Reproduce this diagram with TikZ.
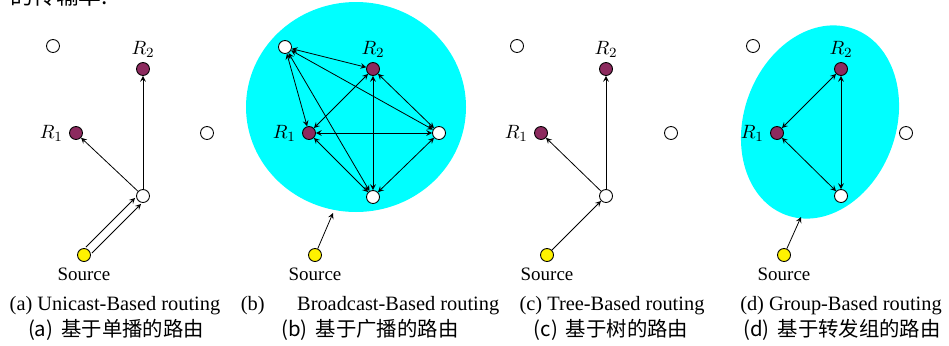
\documentclass[tikz,border=0pt]{standalone}
\usepackage{fontspec}
\setmainfont{Liberation Serif}
\newfontfamily\cjk{Noto Sans CJK SC}
\usetikzlibrary{calc}
\definecolor{member}{RGB}{140,42,94}
\definecolor{zone}{RGB}{0,255,255}
\tikzset{
  host/.style={circle,draw,fill=white,inner sep=0pt,minimum size=0.26cm,line width=0.5pt},
  recv/.style={host,fill=member},
  src/.style={host,fill=yellow},
  srclabel/.style={font=\fontsize{10.8}{12}\selectfont},
  rlabel/.style={font=\fontsize{11}{12}\selectfont},
  caption/.style={font=\fontsize{11.6}{13}\selectfont},
  zhcaption/.style={font=\fontsize{11.6}{13}\selectfont\cjk},
}

\begin{document}
\begin{tikzpicture}[>=stealth,x=0.02cm,y=-0.02cm,line width=0.45pt]
    \useasboundingbox (0,0) rectangle (949,345);
    % clipped line of the page text above
    \node[anchor=base west,inner sep=0pt,font=\fontsize{13}{14}\selectfont\cjk] (toptext) at (10,4) {的传输率.};

    % (a) unicast
    \node[host] (a-tl) at (53,46) {};
    \node[recv,label={[rlabel,label distance=-1pt]above:$R_2$}] (a-r2) at (143,69) {};
    \node[recv,label={[rlabel,label distance=0pt]left:$R_1$}] (a-r1) at (76,133) {};
    \node[host] (a-rt) at (207,133) {};
    \node[host] (a-mid) at (143,196) {};
    \node[src] (a-src) at (84,255) {};
    \node[srclabel] (a-srctext) at (84,274) {Source};
    \draw[->] (a-mid) -- (a-r2);
    \draw[->] (a-mid) -- (a-r1);
    \draw[->,transform canvas={shift={(-3,-3)}}] (a-src) -- (a-mid);
    \draw[->,transform canvas={shift={(3,3)}}] (a-src) -- (a-mid);
    \node[caption] (a-cap) at (115,306) {(a) Unicast-Based routing};
    \node[zhcaption] (a-zh) at (116,330) {(a) \,基于单播的路由};

    % (b) broadcast
    \fill[zone] (356,107) ellipse [x radius=110, y radius=105];
    \coordinate (b-rim) at (333,213);
    \node[host] (b-tl) at (285,47) {};
    \node[recv,label={[rlabel,label distance=-1pt]above:$R_2$}] (b-r2) at (373,69) {};
    \node[recv,label={[rlabel,label distance=0pt]left:$R_1$}] (b-r1) at (309,133) {};
    \node[host] (b-rt) at (439,133) {};
    \node[host] (b-bot) at (373,197) {};
    \node[src] (b-src) at (315,255) {};
    \node[srclabel] (b-srctext) at (315,274) {Source};
    \foreach \p/\q in {tl/r2,tl/r1,tl/rt,tl/bot,r2/r1,r2/rt,r2/bot,r1/rt,r1/bot,rt/bot}
        \draw[<->] (b-\p) -- (b-\q);
    \draw[->] (b-src) -- (b-rim);
    \node[caption] (b-cap) at (370,306) {(b)\hspace{1.6em}Broadcast-Based routing};
    \node[zhcaption] (b-zh) at (370,330) {(b) \,基于广播的路由};

    % (c) tree
    \node[host] (c-tl) at (517,46) {};
    \node[recv,label={[rlabel,label distance=-1pt]above:$R_2$}] (c-r2) at (606,69) {};
    \node[recv,label={[rlabel,label distance=0pt]left:$R_1$}] (c-r1) at (541,133) {};
    \node[host] (c-rt) at (671,133) {};
    \node[host] (c-mid) at (606,196) {};
    \node[src] (c-src) at (547,255) {};
    \node[srclabel] (c-srctext) at (547,274) {Source};
    \draw[->] (c-mid) -- (c-r2);
    \draw[->] (c-mid) -- (c-r1);
    \draw[->] (c-src) -- (c-mid);
    \node[caption] (c-cap) at (612,306) {(c) Tree-Based routing};
    \node[zhcaption] (c-zh) at (611,330) {(c) \,基于树的路由};

    % (d) group
    \fill[zone,rotate around={-20:(820,122)}] (820,122) ellipse [x radius=76, y radius=99];
    \coordinate (d-rim) at (801,217);
    \node[host] (d-tl) at (753,46) {};
    \node[recv,label={[rlabel,label distance=-1pt]above:$R_2$}] (d-r2) at (841,69) {};
    \node[recv,label={[rlabel,label distance=0pt]left:$R_1$}] (d-r1) at (777,133) {};
    \node[host] (d-rt) at (906,133) {};
    \node[host] (d-bot) at (841,196) {};
    \node[src] (d-src) at (784,255) {};
    \node[srclabel] (d-srctext) at (784,274) {Source};
    \draw[<->] (d-r1) -- (d-r2);
    \draw[<->] (d-r2) -- (d-bot);
    \draw[<->] (d-r1) -- (d-bot);
    \draw[->] (d-src) -- (d-rim);
    \node[caption] (d-cap) at (841,306) {(d) Group-Based routing};
    \node[zhcaption] (d-zh) at (842,330) {(d) \,基于转发组的路由};
\end{tikzpicture}
\end{document}
